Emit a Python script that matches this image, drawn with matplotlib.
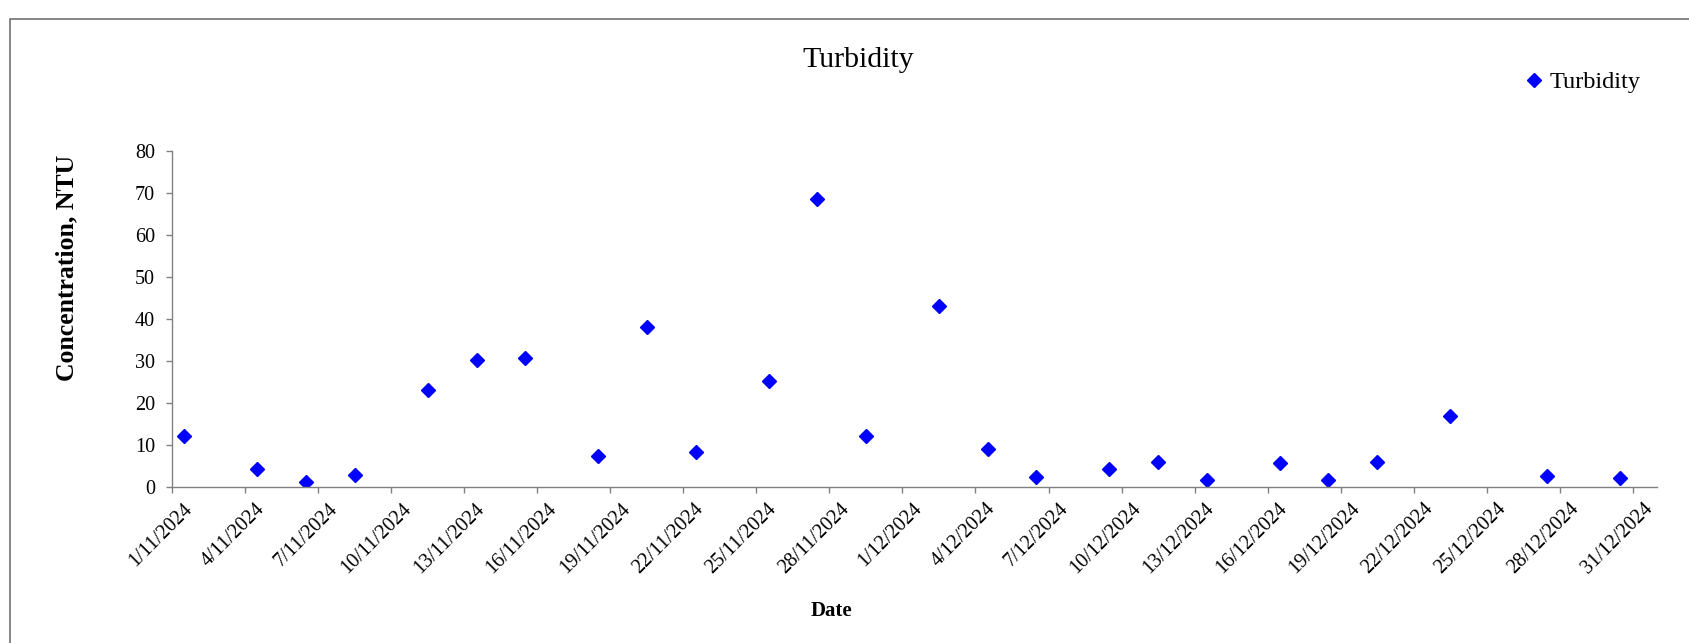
import datetime as dt
import matplotlib
matplotlib.use('agg')
import matplotlib.pyplot as plt
import matplotlib.ticker as mticker
import matplotlib.transforms as mtransforms
from matplotlib.patches import Rectangle

plt.rcParams['font.family'] = ['Liberation Serif', 'DejaVu Serif']

# sample dates (all taken around midday) and turbidity readings, NTU
dates = ['1/11/2024', '4/11/2024', '6/11/2024', '8/11/2024', '11/11/2024',
         '13/11/2024', '15/11/2024', '18/11/2024', '20/11/2024', '22/11/2024',
         '25/11/2024', '27/11/2024', '29/11/2024', '2/12/2024', '4/12/2024',
         '6/12/2024', '9/12/2024', '11/12/2024', '13/12/2024', '16/12/2024',
         '18/12/2024', '20/12/2024', '23/12/2024', '27/12/2024', '30/12/2024']
turbidity = [12.2, 4.1, 1.2, 2.8, 23.0, 30.1, 30.7, 7.3, 38.1, 8.2,
             25.3, 68.6, 12.2, 43.1, 9.1, 2.4, 4.2, 5.8, 1.5, 5.7,
             1.6, 5.8, 16.9, 2.6, 2.0]

x = [dt.datetime.strptime(d, '%d/%m/%Y') + dt.timedelta(hours=12) for d in dates]

W, H = 1690, 643
fig = plt.figure(figsize=(W / 100, H / 100), dpi=100)
ax = fig.add_axes([172.3 / W, 1 - 486.7 / H, (1657 - 172.3) / W, (486.7 - 151) / H])

ax.plot(x, turbidity, ls='none', marker='D', ms=7.5, color='#0000ff', label='Turbidity')

ax.set_xlim(dt.datetime(2024, 11, 1), dt.datetime(2025, 1, 1))
ax.set_ylim(0, 80)
ax.yaxis.set_major_locator(mticker.MultipleLocator(10))

for s in ('top', 'right'):
    ax.spines[s].set_visible(False)
for s in ('left', 'bottom'):
    ax.spines[s].set_color('#808080')
    ax.spines[s].set_linewidth(1.0)
ax.tick_params(axis='both', direction='out', length=4, width=1, color='#808080',
               labelsize=14.5, labelcolor='black')
ax.tick_params(axis='x', pad=5)
ax.tick_params(axis='y', pad=8.5)

ticks = [dt.datetime(2024, 11, 1) + dt.timedelta(days=3 * i) for i in range(21)]
ax.set_xticks(ticks)
ax.set_xticklabels(['{}/{}/{}'.format(t.day, t.month, t.year) for t in ticks],
                   rotation=45, ha='right', va='top', rotation_mode='anchor')
# nudge the slanted date labels to the right, as in the original
# (done after tick_params, which would reset the label transforms)
shift = mtransforms.ScaledTranslation(10 / 100, 0, fig.dpi_scale_trans)
for lbl in ax.get_xticklabels():
    lbl.set_transform(lbl.get_transform() + shift)

fig.text(858.7 / W, 1 - 66.7 / H, 'Turbidity', ha='center', va='baseline', fontsize=21.5)
fig.text(66.7 / W, 1 - 268 / H, 'Concentration, NTU', rotation=90, ha='center',
         va='center', fontsize=18.5, fontweight='bold')
fig.text(831.7 / W, 1 - 610.7 / H, 'Date', ha='center', va='center',
         fontsize=15, fontweight='bold')

fig.legend(loc='center left', bbox_to_anchor=(1524.6 / W, 1 - 82 / H), frameon=False,
           borderpad=0, borderaxespad=0, handlelength=0.8, handletextpad=0.22,
           fontsize=17.5)

# chart-area border, cut off by the right and bottom edges in the original
fig.patches.append(Rectangle((9.7 / W, -0.1), 1.2, (H - 19) / H + 0.1,
                             transform=fig.transFigure, fill=False,
                             edgecolor='#666666', lw=1.1))

fig.savefig('out.png', dpi=100)
